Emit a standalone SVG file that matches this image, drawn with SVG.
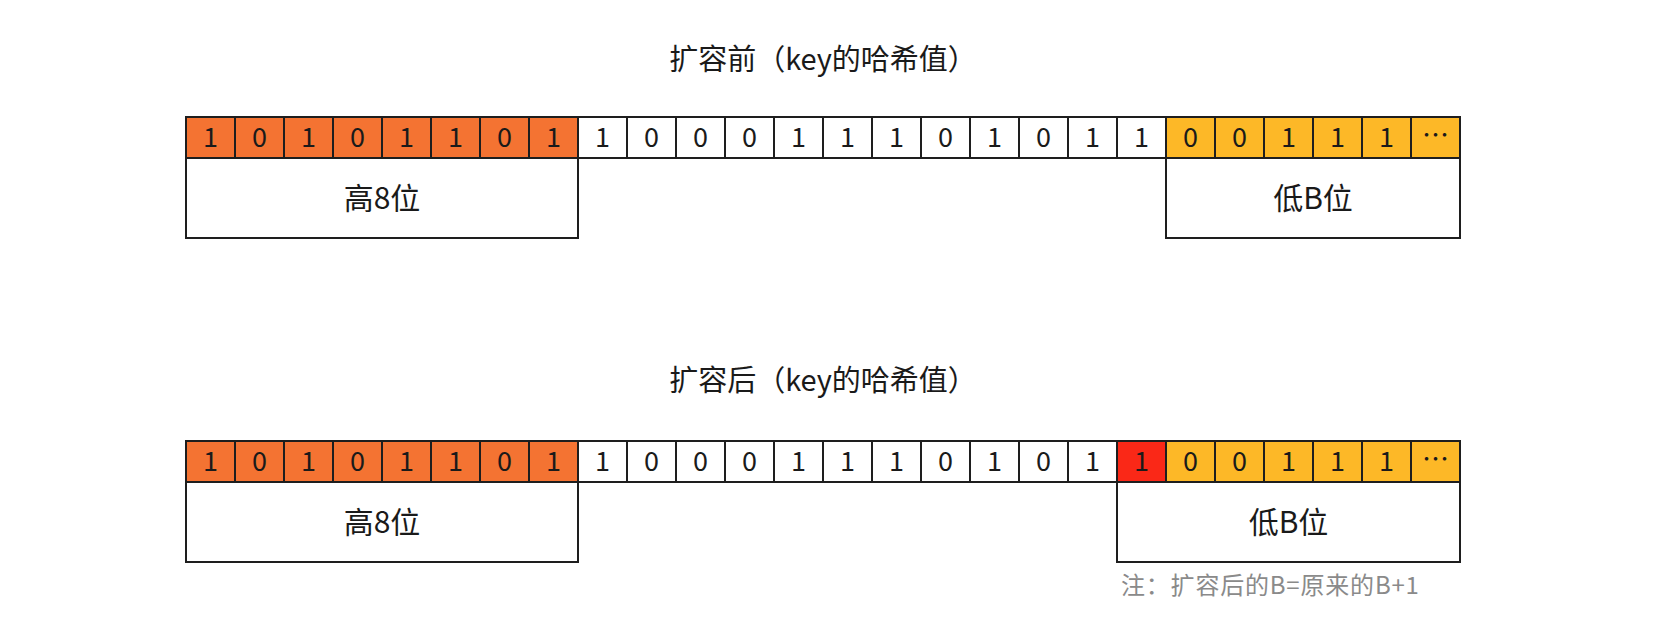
<svg xmlns="http://www.w3.org/2000/svg" width="1656" height="632" viewBox="0 0 1656 632">
<style>
.c{stroke:#1e1e1e;stroke-width:2}
.w{fill:#ffffff}
.o{fill:#F47332}
.y{fill:#FDB827}
.r{fill:#FA2817}
.d{font-family:"Noto Sans CJK SC","Noto Sans",sans-serif;font-size:27px;fill:#1a1a1a;text-anchor:middle}
.t{font-family:"Noto Sans CJK SC","Noto Sans",sans-serif;font-size:29px;fill:#1a1a1a;text-anchor:middle}
.l{font-family:"Noto Sans CJK SC","Noto Sans",sans-serif;font-size:30px;fill:#1a1a1a;text-anchor:middle}
.n{font-family:"Noto Sans CJK SC","Noto Sans",sans-serif;font-size:24px;letter-spacing:0.8px;fill:#8a8a8a}
</style>
<rect width="1656" height="632" fill="#ffffff"/>
<g id="title-before"><text class="t" x="823" y="70">扩容前（key的哈希值）</text></g>
<g id="row-before">
<rect class="c o" x="186" y="117" width="49" height="41"/><text class="d" x="210.5" y="147">1</text>
<rect class="c o" x="235" y="117" width="49" height="41"/><text class="d" x="259.5" y="147">0</text>
<rect class="c o" x="284" y="117" width="49" height="41"/><text class="d" x="308.5" y="147">1</text>
<rect class="c o" x="333" y="117" width="49" height="41"/><text class="d" x="357.5" y="147">0</text>
<rect class="c o" x="382" y="117" width="49" height="41"/><text class="d" x="406.5" y="147">1</text>
<rect class="c o" x="431" y="117" width="49" height="41"/><text class="d" x="455.5" y="147">1</text>
<rect class="c o" x="480" y="117" width="49" height="41"/><text class="d" x="504.5" y="147">0</text>
<rect class="c o" x="529" y="117" width="49" height="41"/><text class="d" x="553.5" y="147">1</text>
<rect class="c w" x="578" y="117" width="49" height="41"/><text class="d" x="602.5" y="147">1</text>
<rect class="c w" x="627" y="117" width="49" height="41"/><text class="d" x="651.5" y="147">0</text>
<rect class="c w" x="676" y="117" width="49" height="41"/><text class="d" x="700.5" y="147">0</text>
<rect class="c w" x="725" y="117" width="49" height="41"/><text class="d" x="749.5" y="147">0</text>
<rect class="c w" x="774" y="117" width="49" height="41"/><text class="d" x="798.5" y="147">1</text>
<rect class="c w" x="823" y="117" width="49" height="41"/><text class="d" x="847.5" y="147">1</text>
<rect class="c w" x="872" y="117" width="49" height="41"/><text class="d" x="896.5" y="147">1</text>
<rect class="c w" x="921" y="117" width="49" height="41"/><text class="d" x="945.5" y="147">0</text>
<rect class="c w" x="970" y="117" width="49" height="41"/><text class="d" x="994.5" y="147">1</text>
<rect class="c w" x="1019" y="117" width="49" height="41"/><text class="d" x="1043.5" y="147">0</text>
<rect class="c w" x="1068" y="117" width="49" height="41"/><text class="d" x="1092.5" y="147">1</text>
<rect class="c w" x="1117" y="117" width="49" height="41"/><text class="d" x="1141.5" y="147">1</text>
<rect class="c y" x="1166" y="117" width="49" height="41"/><text class="d" x="1190.5" y="147">0</text>
<rect class="c y" x="1215" y="117" width="49" height="41"/><text class="d" x="1239.5" y="147">0</text>
<rect class="c y" x="1264" y="117" width="49" height="41"/><text class="d" x="1288.5" y="147">1</text>
<rect class="c y" x="1313" y="117" width="49" height="41"/><text class="d" x="1337.5" y="147">1</text>
<rect class="c y" x="1362" y="117" width="49" height="41"/><text class="d" x="1386.5" y="147">1</text>
<rect class="c y" x="1411" y="117" width="49" height="41"/><text class="d" x="1435.5" y="145">…</text>
</g>
<g id="high8-before"><rect class="c w" x="186" y="158" width="392" height="80"/><text class="l" x="382" y="209">高8位</text></g>
<g id="lowB-before"><rect class="c w" x="1166" y="158" width="294" height="80"/><text class="l" x="1313" y="209">低B位</text></g>

<g id="title-after"><text class="t" x="823" y="391">扩容后（key的哈希值）</text></g>
<g id="row-after">
<rect class="c o" x="186" y="441" width="49" height="41"/><text class="d" x="210.5" y="471">1</text>
<rect class="c o" x="235" y="441" width="49" height="41"/><text class="d" x="259.5" y="471">0</text>
<rect class="c o" x="284" y="441" width="49" height="41"/><text class="d" x="308.5" y="471">1</text>
<rect class="c o" x="333" y="441" width="49" height="41"/><text class="d" x="357.5" y="471">0</text>
<rect class="c o" x="382" y="441" width="49" height="41"/><text class="d" x="406.5" y="471">1</text>
<rect class="c o" x="431" y="441" width="49" height="41"/><text class="d" x="455.5" y="471">1</text>
<rect class="c o" x="480" y="441" width="49" height="41"/><text class="d" x="504.5" y="471">0</text>
<rect class="c o" x="529" y="441" width="49" height="41"/><text class="d" x="553.5" y="471">1</text>
<rect class="c w" x="578" y="441" width="49" height="41"/><text class="d" x="602.5" y="471">1</text>
<rect class="c w" x="627" y="441" width="49" height="41"/><text class="d" x="651.5" y="471">0</text>
<rect class="c w" x="676" y="441" width="49" height="41"/><text class="d" x="700.5" y="471">0</text>
<rect class="c w" x="725" y="441" width="49" height="41"/><text class="d" x="749.5" y="471">0</text>
<rect class="c w" x="774" y="441" width="49" height="41"/><text class="d" x="798.5" y="471">1</text>
<rect class="c w" x="823" y="441" width="49" height="41"/><text class="d" x="847.5" y="471">1</text>
<rect class="c w" x="872" y="441" width="49" height="41"/><text class="d" x="896.5" y="471">1</text>
<rect class="c w" x="921" y="441" width="49" height="41"/><text class="d" x="945.5" y="471">0</text>
<rect class="c w" x="970" y="441" width="49" height="41"/><text class="d" x="994.5" y="471">1</text>
<rect class="c w" x="1019" y="441" width="49" height="41"/><text class="d" x="1043.5" y="471">0</text>
<rect class="c w" x="1068" y="441" width="49" height="41"/><text class="d" x="1092.5" y="471">1</text>
<rect class="c r" x="1117" y="441" width="49" height="41"/><text class="d" x="1141.5" y="471">1</text>
<rect class="c y" x="1166" y="441" width="49" height="41"/><text class="d" x="1190.5" y="471">0</text>
<rect class="c y" x="1215" y="441" width="49" height="41"/><text class="d" x="1239.5" y="471">0</text>
<rect class="c y" x="1264" y="441" width="49" height="41"/><text class="d" x="1288.5" y="471">1</text>
<rect class="c y" x="1313" y="441" width="49" height="41"/><text class="d" x="1337.5" y="471">1</text>
<rect class="c y" x="1362" y="441" width="49" height="41"/><text class="d" x="1386.5" y="471">1</text>
<rect class="c y" x="1411" y="441" width="49" height="41"/><text class="d" x="1435.5" y="469">…</text>
</g>
<g id="high8-after"><rect class="c w" x="186" y="482" width="392" height="80"/><text class="l" x="382" y="533">高8位</text></g>
<g id="lowB-after"><rect class="c w" x="1117" y="482" width="343" height="80"/><text class="l" x="1288.5" y="533">低B位</text></g>
<g id="note"><text class="n" x="1121" y="594">注：扩容后的B=原来的B+1</text></g>
<g id="connectors"></g>
</svg>
